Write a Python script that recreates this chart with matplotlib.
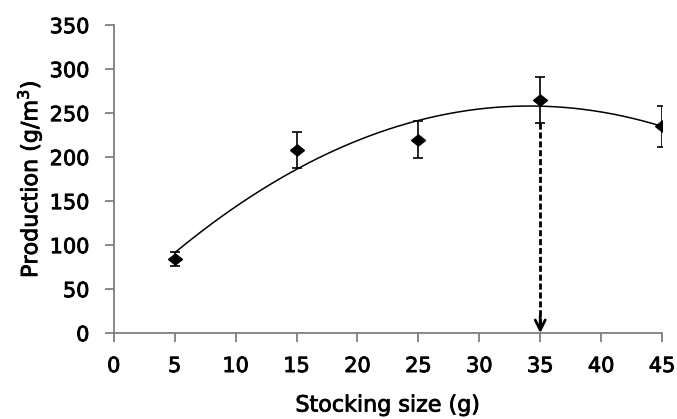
import numpy as np
import matplotlib
matplotlib.use("Agg")
import matplotlib.pyplot as plt
import matplotlib.patheffects as pe

stocking = [5, 15, 25, 35, 45]
production = [84, 208, 220, 265, 235]
errors = [8, 20, 21, 26, 23]
optimum_x = 35

plt.rcParams['font.family'] = ['DejaVu Sans']
fig = plt.figure(figsize=(6.77, 4.19), dpi=100)
ax = fig.add_axes([0.168, 0.205, 0.810, 0.735])

# quadratic trend line
coef = np.polyfit(stocking, production, 2)
xs = np.linspace(min(stocking), max(stocking), 200)
ax.plot(xs, np.polyval(coef, xs), color='black', lw=1.1)

diamond = [(-1, 0), (0, 0.8), (1, 0), (0, -0.8), (-1, 0)]
ax.errorbar(stocking, production, yerr=errors, fmt='none', ecolor='black',
            elinewidth=1.2, capsize=3.5, capthick=1.2)
ax.plot(stocking, production, linestyle='none', marker=diamond, ms=10,
        color='black')

# dashed arrow at the optimum
i = stocking.index(optimum_x)
y0 = production[i] - errors[i]
ax.plot([optimum_x, optimum_x], [y0, 8], color='black', lw=2.0,
        linestyle=(0, (2.2, 1)))
ax.annotate('', xy=(optimum_x, 0), xytext=(optimum_x, 20),
            arrowprops=dict(arrowstyle='->', color='black', lw=2.0,
                            mutation_scale=18, shrinkA=0, shrinkB=0))

ax.set_xlim(0, 45)
ax.set_ylim(0, 350)
ax.set_xticks(range(0, 46, 5))
ax.set_yticks(range(0, 351, 50))
for s in ['top', 'right']:
    ax.spines[s].set_visible(False)
for s in ['left', 'bottom']:
    ax.spines[s].set_color('#7f7f7f')
    ax.spines[s].set_linewidth(1.3)
ax.tick_params(colors='#7f7f7f', length=6.5, width=1.3, labelsize=15,
               labelcolor='black')
ax.tick_params(axis='x', pad=10)
ax.tick_params(axis='y', pad=11)
ax.set_xlabel('Stocking size (g)', fontsize=16, labelpad=14)
ax.set_ylabel('Production (g/m$^3$)', fontsize=16, labelpad=4)

# slightly heavier text, like the scanned original
heavy = [pe.withStroke(linewidth=0.6, foreground='black')]
for t in ax.get_xticklabels() + ax.get_yticklabels() + [ax.xaxis.label, ax.yaxis.label]:
    t.set_path_effects(heavy)

fig.savefig('out.png', dpi=100)
